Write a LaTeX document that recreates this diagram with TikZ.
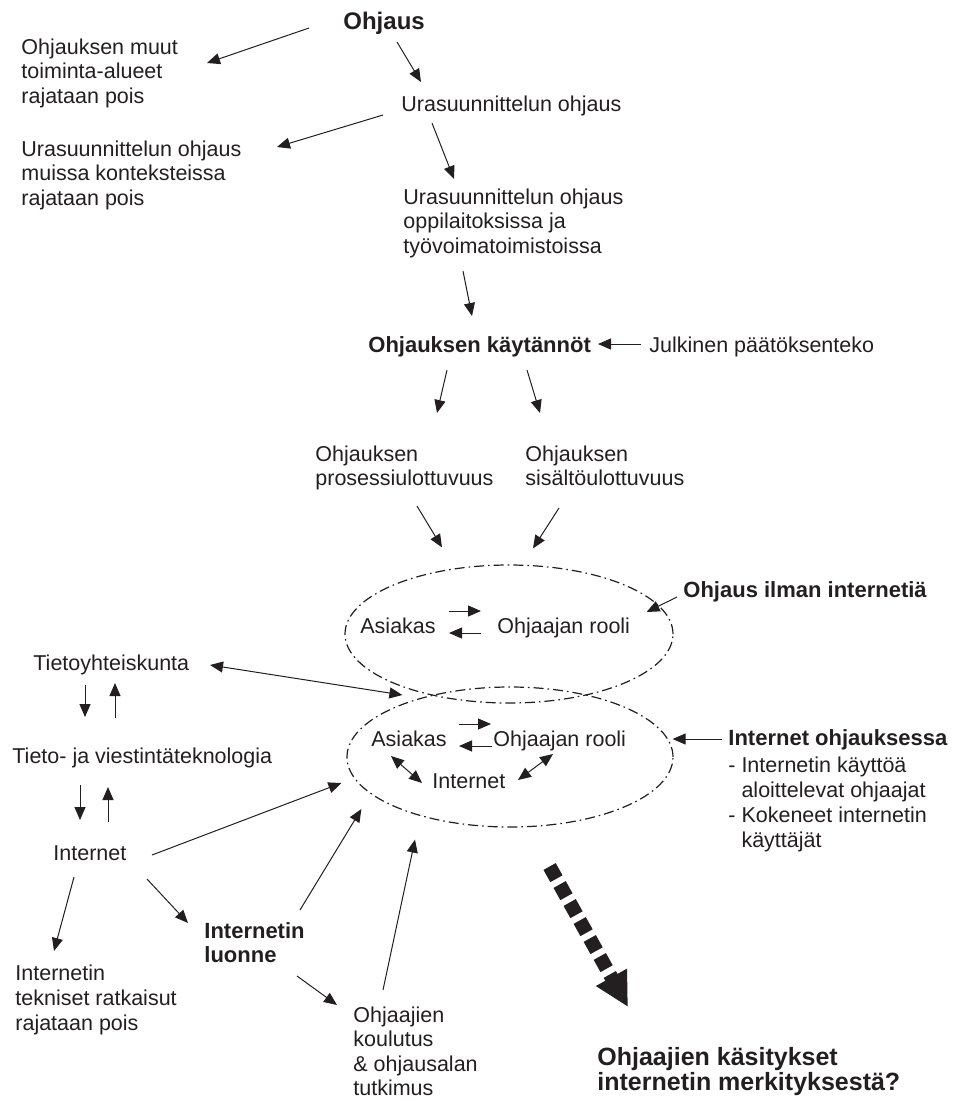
\documentclass[tikz,border=0pt]{standalone}
\usepackage{fontspec}
\setmainfont{Liberation Sans}
\usetikzlibrary{arrows.meta,shapes.geometric}
\definecolor{ink}{RGB}{35,31,32}

\begin{document}
\begin{tikzpicture}[
    x=0.5pt, y=-0.5pt, color=ink,
    lbl/.style={align=left, inner sep=0pt, font=\fontsize{10.75}{12.2}\selectfont},
    hd/.style={lbl, font=\fontsize{11}{12.2}\selectfont\bfseries},
    arr/.style={-{Triangle[length=6.5pt,width=5.5pt]}, line width=0.5pt},
    dbl/.style={{Triangle[length=6.5pt,width=5.5pt]}-{Triangle[length=6.5pt,width=5.5pt]}, line width=0.5pt},
    zone/.style={ellipse, draw, line width=0.6pt, dash pattern=on 5pt off 2pt on 0.8pt off 2pt, inner sep=0pt},
    bigarr/.style={-{Triangle[length=17pt,width=16.5pt]}, line width=7pt, dash pattern=on 7pt off 3.3pt}
  ]
    \useasboundingbox (0,0) rectangle (957,1100);

    \node[hd, anchor=base west, font=\fontsize{12}{12}\selectfont\bfseries] (ohjaus) at (343,29) {Ohjaus};
    \node[lbl, anchor=north west] (muut) at (21,38.5) {Ohjauksen muut\\toiminta-alueet\\rajataan pois};
    \node[lbl, anchor=base west] (ura1) at (401,111) {Urasuunnittelun ohjaus};
    \node[lbl, anchor=north west] (muissa) at (21,140.5) {Urasuunnittelun ohjaus\\muissa konteksteissa\\rajataan pois};
    \node[lbl, anchor=north west] (ura3) at (403,188.5) {Urasuunnittelun ohjaus\\oppilaitoksissa ja\\työvoimatoimistoissa};
    \node[hd, anchor=base west] (kaytannot) at (368,352) {Ohjauksen käytännöt};
    \node[lbl, anchor=base west] (julkinen) at (649,352) {Julkinen päätöksenteko};
    \node[lbl, anchor=north west] (prosessi) at (315,445.5) {Ohjauksen\\prosessiulottuvuus};
    \node[lbl, anchor=north west] (sisalto) at (525,445.5) {Ohjauksen\\sisältöulottuvuus};

    \node[zone, minimum width=164pt, minimum height=69pt] (e1) at (509,634) {};
    \node[zone, minimum width=163pt, minimum height=70pt] (e2) at (510,757) {};
    \node[lbl, anchor=base west] (as1) at (360,633) {Asiakas};
    \node[lbl, anchor=base west] (oh1) at (497,633) {Ohjaajan rooli};
    \node[lbl, anchor=base west] (as2) at (371,746) {Asiakas};
    \node[lbl, anchor=base west] (oh2) at (493,746) {Ohjaajan rooli};
    \node[lbl, anchor=base west] (in2) at (432,788) {Internet};
    \node[hd, anchor=base west] (ilman) at (683,597) {Ohjaus ilman internetiä};
    \node[hd, anchor=base west] (inoh) at (728,745) {Internet ohjauksessa};
    \node[lbl, anchor=north west, font=\fontsize{10.75}{12.5}\selectfont] (inohlist) at (728,756.5) {- Internetin käyttöä\\\phantom{- }aloittelevat ohjaajat\\- Kokeneet internetin\\\phantom{- }käyttäjät};

    \node[lbl, anchor=base west] (tietoy) at (33,670) {Tietoyhteiskunta};
    \node[lbl, anchor=base west] (tieto) at (12,763) {Tieto- ja viestintäteknologia};
    \node[lbl, anchor=base west] (internet) at (53,860) {Internet};
    \node[lbl, anchor=north west, font=\fontsize{10.75}{12.5}\selectfont] (tekn) at (15,964.5) {Internetin\\tekniset ratkaisut\\rajataan pois};
    \node[hd, anchor=north west] (luonne) at (204,922) {Internetin\\luonne};
    \node[lbl, anchor=north west] (koul) at (353,1006.5) {Ohjaajien\\koulutus\\\& ohjausalan\\tutkimus};
    \node[hd, anchor=north west, font=\fontsize{12.5}{12.5}\selectfont\bfseries] (concl) at (597,1046.8) {Ohjaajien käsitykset\\internetin merkityksestä?};

    \draw[arr] ([shift={(-34,-1)}]ohjaus.base west) -- ([shift={(186,24.5)}]muut.north west);
    \draw[arr] ([shift={(54,13)}]ohjaus.base west) -- ([shift={(20,-29)}]ura1.base west);
    \draw[arr] ([shift={(-18,4)}]ura1.base west) -- ([shift={(256,6.5)}]muissa.north west);
    \draw[arr] ([shift={(31,12)}]ura1.base west) -- ([shift={(51,-9.5)}]ura3.north west);
    \draw[arr] ([shift={(60,82.5)}]ura3.north west) -- ([shift={(104,-36)}]kaytannot.base west);
    \draw[arr] ([shift={(-8,-8)}]julkinen.base west) -- ([shift={(230,-8)}]kaytannot.base west);
    \draw[arr] ([shift={(79,18)}]kaytannot.base west) -- ([shift={(122,-32.5)}]prosessi.north west);
    \draw[arr] ([shift={(159,18)}]kaytannot.base west) -- ([shift={(15,-32.5)}]sisalto.north west);
    \draw[arr] ([shift={(102,60.5)}]prosessi.north west) -- ([shift={(-67,-17)}]e1.north);
    \draw[arr] ([shift={(34,62.5)}]sisalto.north west) -- ([shift={(24,-16)}]e1.north);
    \draw[arr] ([shift={(-6,0)}]ilman.base west) -- ([shift={(-27,-22)}]e1.east);

    \draw[arr] ([shift={(89,-22)}]as1.base west) -- ([shift={(-16,-22)}]oh1.base west);
    \draw[arr] ([shift={(-16,0)}]oh1.base west) -- ([shift={(89,0)}]as1.base west);
    \draw[arr] ([shift={(88,-22)}]as2.base west) -- ([shift={(-2,-22)}]oh2.base west);
    \draw[arr] ([shift={(-1,0)}]oh2.base west) -- ([shift={(88,0)}]as2.base west);
    \draw[dbl] ([shift={(20,10)}]as2.base west) -- ([shift={(-10,-5)}]in2.base west);
    \draw[dbl] ([shift={(86,-8)}]in2.base west) -- ([shift={(60,8)}]oh2.base west);
    \draw[arr] ([shift={(-6,-6)}]inoh.base west) -- ([shift={(-1,-18)}]e2.east);

    \draw[dbl] ([shift={(177,-5)}]tietoy.base west) -- ([shift={(56,-62)}]e2.west);
    \draw[arr] ([shift={(52,15)}]tietoy.base west) -- ([shift={(73,-46)}]tieto.base west);
    \draw[arr] ([shift={(103,-45)}]tieto.base west) -- ([shift={(82,13)}]tietoy.base west);
    \draw[arr] ([shift={(68,22)}]tieto.base west) -- ([shift={(27,-40)}]internet.base west);
    \draw[arr] ([shift={(55,-38)}]internet.base west) -- ([shift={(96,24)}]tieto.base west);
    \draw[arr] ([shift={(99,-5)}]internet.base west) -- ([shift={(-5,26)}]e2.west);
    \draw[arr] ([shift={(21,17)}]internet.base west) -- ([shift={(39,-13.5)}]tekn.north west);
    \draw[arr] ([shift={(94,19)}]internet.base west) -- ([shift={(-16,1)}]luonne.north west);
    \draw[arr] ([shift={(96,-12)}]luonne.north west) -- ([shift={(15,52)}]e2.west);
    \draw[arr] ([shift={(93,54)}]luonne.north west) -- ([shift={(-16,-1.5)}]koul.north west);
    \draw[arr] ([shift={(30,-16.5)}]koul.north west) -- ([shift={(-95,12)}]e2.south);

    \draw[bigarr] ([shift={(39.6,38.9)}]e2.south) -- ([shift={(31,-39.8)}]concl.north west);
  \end{tikzpicture}
\end{document}
